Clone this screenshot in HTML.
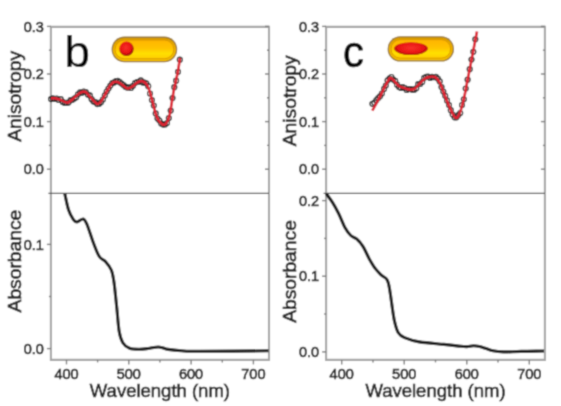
<!DOCTYPE html>
<html><head><meta charset="utf-8"><style>
html,body{margin:0;padding:0;background:#fff;}
svg{display:block;}
text{font-family:"Liberation Sans", sans-serif;}
.tk{font-size:14.5px;fill:#222222;stroke:#222222;stroke-width:0.65px;}
.xt{font-size:18.5px;fill:#222222;stroke:#222222;stroke-width:0.65px;}
.yt{font-size:18px;fill:#222222;stroke:#222222;stroke-width:0.65px;}
.big{font-size:44px;fill:#000;stroke:#000;stroke-width:0.2px;}
.big2{font-size:45px;fill:#000;stroke:#000;stroke-width:0.65px;}
</style></head><body>
<svg width="561" height="406" viewBox="0 0 561 406">
<defs>
<linearGradient id="go" x1="0" y1="0" x2="0" y2="1">
<stop offset="0" stop-color="#d89c00"/><stop offset="0.5" stop-color="#f0b400"/><stop offset="1" stop-color="#f6c000"/>
</linearGradient>
<linearGradient id="gi" x1="0" y1="0" x2="0" y2="1">
<stop offset="0" stop-color="#ffb400"/><stop offset="0.45" stop-color="#ffc400"/><stop offset="0.72" stop-color="#ffe000"/><stop offset="1" stop-color="#ffcc00"/>
</linearGradient>
<radialGradient id="rd" cx="0.45" cy="0.42" r="0.55">
<stop offset="0" stop-color="#f83028"/><stop offset="0.7" stop-color="#e81414"/><stop offset="1" stop-color="#980404"/>
</radialGradient>
<radialGradient id="rd2" cx="0.5" cy="0.45" r="0.55">
<stop offset="0" stop-color="#f83028"/><stop offset="0.7" stop-color="#e81414"/><stop offset="1" stop-color="#a00404"/>
</radialGradient>
</defs>
<filter id="bl" x="0" y="0" width="561" height="406" filterUnits="userSpaceOnUse"><feConvolveMatrix order="5" kernelMatrix="0.00003 0.00101 0.00331 0.00101 0.00003 0.00101 0.03529 0.11525 0.03529 0.00101 0.00331 0.11525 0.37636 0.11525 0.00331 0.00101 0.03529 0.11525 0.03529 0.00101 0.00003 0.00101 0.00331 0.00101 0.00003" edgeMode="duplicate" preserveAlpha="true"/></filter>
<g filter="url(#bl)">
<rect width="561" height="406" fill="#fff"/>
<path d="M50.9,193.3 L50.9,26.9 L269.0,26.9 L269.0,193.3" fill="none" stroke="#a4a4a4" stroke-width="2.1"/>
<path d="M50.9,193.3 L50.9,359.9 L269.0,359.9 L269.0,193.3" fill="none" stroke="#a4a4a4" stroke-width="2.1"/>
<line x1="48.4" y1="193.3" x2="269.0" y2="193.3" stroke="#505050" stroke-width="1.3"/>
<line x1="46.9" y1="26.4" x2="50.9" y2="26.4" stroke="#7a7a7a" stroke-width="1.4"/>
<line x1="265.0" y1="26.4" x2="269.0" y2="26.4" stroke="#7a7a7a" stroke-width="1.4"/>
<text x="43.9" y="31.599999999999998" text-anchor="end" class="tk">0.3</text>
<line x1="46.9" y1="74.0" x2="50.9" y2="74.0" stroke="#7a7a7a" stroke-width="1.4"/>
<line x1="265.0" y1="74.0" x2="269.0" y2="74.0" stroke="#7a7a7a" stroke-width="1.4"/>
<text x="43.9" y="79.2" text-anchor="end" class="tk">0.2</text>
<line x1="46.9" y1="121.6" x2="50.9" y2="121.6" stroke="#7a7a7a" stroke-width="1.4"/>
<line x1="265.0" y1="121.6" x2="269.0" y2="121.6" stroke="#7a7a7a" stroke-width="1.4"/>
<text x="43.9" y="126.8" text-anchor="end" class="tk">0.1</text>
<line x1="46.9" y1="169.2" x2="50.9" y2="169.2" stroke="#7a7a7a" stroke-width="1.4"/>
<line x1="265.0" y1="169.2" x2="269.0" y2="169.2" stroke="#7a7a7a" stroke-width="1.4"/>
<text x="43.9" y="174.39999999999998" text-anchor="end" class="tk">0.0</text>
<line x1="48.9" y1="50.2" x2="50.9" y2="50.2" stroke="#7a7a7a" stroke-width="1.4"/>
<line x1="267.0" y1="50.2" x2="269.0" y2="50.2" stroke="#7a7a7a" stroke-width="1.4"/>
<line x1="48.9" y1="97.8" x2="50.9" y2="97.8" stroke="#7a7a7a" stroke-width="1.4"/>
<line x1="267.0" y1="97.8" x2="269.0" y2="97.8" stroke="#7a7a7a" stroke-width="1.4"/>
<line x1="48.9" y1="145.4" x2="50.9" y2="145.4" stroke="#7a7a7a" stroke-width="1.4"/>
<line x1="267.0" y1="145.4" x2="269.0" y2="145.4" stroke="#7a7a7a" stroke-width="1.4"/>
<line x1="46.9" y1="244.4" x2="50.9" y2="244.4" stroke="#7a7a7a" stroke-width="1.4"/>
<text x="43.9" y="249.6" text-anchor="end" class="tk">0.1</text>
<line x1="46.9" y1="348.6" x2="50.9" y2="348.6" stroke="#7a7a7a" stroke-width="1.4"/>
<text x="43.9" y="353.8" text-anchor="end" class="tk">0.0</text>
<line x1="48.9" y1="296.5" x2="50.9" y2="296.5" stroke="#7a7a7a" stroke-width="1.4"/>
<line x1="66.5" y1="359.9" x2="66.5" y2="364.4" stroke="#7a7a7a" stroke-width="1.4"/>
<text x="66.5" y="379" text-anchor="middle" class="tk">400</text>
<line x1="128.8" y1="359.9" x2="128.8" y2="364.4" stroke="#7a7a7a" stroke-width="1.4"/>
<text x="128.8" y="379" text-anchor="middle" class="tk">500</text>
<line x1="191.1" y1="359.9" x2="191.1" y2="364.4" stroke="#7a7a7a" stroke-width="1.4"/>
<text x="191.1" y="379" text-anchor="middle" class="tk">600</text>
<line x1="253.4" y1="359.9" x2="253.4" y2="364.4" stroke="#7a7a7a" stroke-width="1.4"/>
<text x="253.4" y="379" text-anchor="middle" class="tk">700</text>
<line x1="97.6" y1="359.9" x2="97.6" y2="362.4" stroke="#7a7a7a" stroke-width="1.4"/>
<line x1="159.9" y1="359.9" x2="159.9" y2="362.4" stroke="#7a7a7a" stroke-width="1.4"/>
<line x1="222.3" y1="359.9" x2="222.3" y2="362.4" stroke="#7a7a7a" stroke-width="1.4"/>
<text x="159.9" y="397" text-anchor="middle" class="xt">Wavelength (nm)</text>
<text transform="translate(20.6,96.4) rotate(-90) scale(1.07,1)" x="0" y="0" text-anchor="middle" class="yt">Anisotropy</text>
<text transform="translate(20.6,261.1) rotate(-90) scale(1.07,1)" x="0" y="0" text-anchor="middle" class="yt">Absorbance</text>
<path d="M326.1,193.3 L326.1,26.9 L544.9,26.9 L544.9,193.3" fill="none" stroke="#a4a4a4" stroke-width="2.1"/>
<path d="M326.1,193.3 L326.1,359.9 L544.9,359.9 L544.9,193.3" fill="none" stroke="#a4a4a4" stroke-width="2.1"/>
<line x1="323.6" y1="193.3" x2="544.9" y2="193.3" stroke="#505050" stroke-width="1.3"/>
<line x1="322.1" y1="26.4" x2="326.1" y2="26.4" stroke="#7a7a7a" stroke-width="1.4"/>
<line x1="540.9" y1="26.4" x2="544.9" y2="26.4" stroke="#7a7a7a" stroke-width="1.4"/>
<text x="319.1" y="31.599999999999998" text-anchor="end" class="tk">0.3</text>
<line x1="322.1" y1="74.0" x2="326.1" y2="74.0" stroke="#7a7a7a" stroke-width="1.4"/>
<line x1="540.9" y1="74.0" x2="544.9" y2="74.0" stroke="#7a7a7a" stroke-width="1.4"/>
<text x="319.1" y="79.2" text-anchor="end" class="tk">0.2</text>
<line x1="322.1" y1="121.6" x2="326.1" y2="121.6" stroke="#7a7a7a" stroke-width="1.4"/>
<line x1="540.9" y1="121.6" x2="544.9" y2="121.6" stroke="#7a7a7a" stroke-width="1.4"/>
<text x="319.1" y="126.8" text-anchor="end" class="tk">0.1</text>
<line x1="322.1" y1="169.2" x2="326.1" y2="169.2" stroke="#7a7a7a" stroke-width="1.4"/>
<line x1="540.9" y1="169.2" x2="544.9" y2="169.2" stroke="#7a7a7a" stroke-width="1.4"/>
<text x="319.1" y="174.39999999999998" text-anchor="end" class="tk">0.0</text>
<line x1="324.1" y1="50.2" x2="326.1" y2="50.2" stroke="#7a7a7a" stroke-width="1.4"/>
<line x1="542.9" y1="50.2" x2="544.9" y2="50.2" stroke="#7a7a7a" stroke-width="1.4"/>
<line x1="324.1" y1="97.8" x2="326.1" y2="97.8" stroke="#7a7a7a" stroke-width="1.4"/>
<line x1="542.9" y1="97.8" x2="544.9" y2="97.8" stroke="#7a7a7a" stroke-width="1.4"/>
<line x1="324.1" y1="145.4" x2="326.1" y2="145.4" stroke="#7a7a7a" stroke-width="1.4"/>
<line x1="542.9" y1="145.4" x2="544.9" y2="145.4" stroke="#7a7a7a" stroke-width="1.4"/>
<line x1="322.1" y1="200.6" x2="326.1" y2="200.6" stroke="#7a7a7a" stroke-width="1.4"/>
<text x="319.1" y="205.79999999999998" text-anchor="end" class="tk">0.2</text>
<line x1="322.1" y1="276.2" x2="326.1" y2="276.2" stroke="#7a7a7a" stroke-width="1.4"/>
<text x="319.1" y="281.4" text-anchor="end" class="tk">0.1</text>
<line x1="322.1" y1="351.9" x2="326.1" y2="351.9" stroke="#7a7a7a" stroke-width="1.4"/>
<text x="319.1" y="357.09999999999997" text-anchor="end" class="tk">0.0</text>
<line x1="324.1" y1="238.4" x2="326.1" y2="238.4" stroke="#7a7a7a" stroke-width="1.4"/>
<line x1="324.1" y1="314" x2="326.1" y2="314" stroke="#7a7a7a" stroke-width="1.4"/>
<line x1="341.7" y1="359.9" x2="341.7" y2="364.4" stroke="#7a7a7a" stroke-width="1.4"/>
<text x="341.7" y="379" text-anchor="middle" class="tk">400</text>
<line x1="404.2" y1="359.9" x2="404.2" y2="364.4" stroke="#7a7a7a" stroke-width="1.4"/>
<text x="404.2" y="379" text-anchor="middle" class="tk">500</text>
<line x1="466.8" y1="359.9" x2="466.8" y2="364.4" stroke="#7a7a7a" stroke-width="1.4"/>
<text x="466.8" y="379" text-anchor="middle" class="tk">600</text>
<line x1="529.3" y1="359.9" x2="529.3" y2="364.4" stroke="#7a7a7a" stroke-width="1.4"/>
<text x="529.3" y="379" text-anchor="middle" class="tk">700</text>
<line x1="373.0" y1="359.9" x2="373.0" y2="362.4" stroke="#7a7a7a" stroke-width="1.4"/>
<line x1="435.5" y1="359.9" x2="435.5" y2="362.4" stroke="#7a7a7a" stroke-width="1.4"/>
<line x1="498.0" y1="359.9" x2="498.0" y2="362.4" stroke="#7a7a7a" stroke-width="1.4"/>
<text x="435.5" y="397" text-anchor="middle" class="xt">Wavelength (nm)</text>
<text transform="translate(296.0,100.8) rotate(-90) scale(1.07,1)" x="0" y="0" text-anchor="middle" class="yt">Anisotropy</text>
<text transform="translate(296.0,271.5) rotate(-90) scale(1.07,1)" x="0" y="0" text-anchor="middle" class="yt">Absorbance</text>
<text transform="translate(64.6,67) scale(1.04,1)" class="big">b</text>
<text transform="translate(343.0,67.2) scale(0.93,1)" class="big2">c</text>
<rect x="111.6" y="36.6" width="65.6" height="25.6" rx="12.8" ry="12.8" fill="#98741a"/>
<rect x="112.89999999999999" y="37.9" width="62.99999999999999" height="23.0" rx="11.5" ry="11.5" fill="url(#go)"/>
<rect x="115.0" y="40.0" width="58.8" height="18.8" rx="9.4" ry="9.4" fill="url(#gi)" stroke="#d69400" stroke-width="0.9"/>
<rect x="387.6" y="36.2" width="66.39999999999998" height="25.4" rx="12.7" ry="12.7" fill="#98741a"/>
<rect x="388.90000000000003" y="37.5" width="63.799999999999976" height="22.799999999999997" rx="11.399999999999999" ry="11.399999999999999" fill="url(#go)"/>
<rect x="391.0" y="39.6" width="59.59999999999998" height="18.599999999999998" rx="9.299999999999999" ry="9.299999999999999" fill="url(#gi)" stroke="#d69400" stroke-width="0.9"/>
<circle cx="126.5" cy="48.8" r="7.2" fill="url(#rd)"/>
<ellipse cx="411" cy="48.6" rx="16.8" ry="6.4" fill="url(#rd2)"/>
<path d="M64.8,193.7 C65.4,196.4 67.1,205.4 68.5,209.7 C69.9,214.0 72.0,217.5 73.4,219.6 C74.8,221.7 75.5,222.1 77.1,222.0 C78.7,221.9 81.5,218.6 83.2,219.0 C84.9,219.4 85.4,220.7 87.0,224.5 C88.6,228.3 91.0,236.4 93.0,241.7 C95.0,247.0 97.2,253.2 99.3,256.5 C101.4,259.8 103.4,259.1 105.4,261.4 C107.4,263.6 109.9,266.5 111.3,270.0 C112.7,273.5 113.1,276.1 114.0,282.3 C114.9,288.5 115.8,298.8 116.7,307.0 C117.6,315.2 118.2,325.7 119.2,331.6 C120.2,337.6 121.1,339.9 122.8,342.7 C124.5,345.5 126.8,347.2 129.6,348.3 C132.4,349.4 136.3,349.3 139.4,349.3 C142.5,349.3 145.7,348.8 148.0,348.5 C150.3,348.2 151.8,347.8 153.5,347.5 C155.2,347.2 156.7,347.0 158.2,347.0 C159.7,347.0 160.9,347.3 162.5,347.7 C164.1,348.1 164.9,348.9 168.0,349.4 C171.1,349.9 176.0,350.5 181.3,350.8 C186.6,351.1 185.5,351.3 200.0,351.3 C214.5,351.3 257.1,350.9 268.5,350.8" fill="none" stroke="#161616" stroke-width="3.1" stroke-linejoin="round"/>
<path d="M326.2,193.6 C327.2,195.0 330.2,198.9 332.3,202.2 C334.4,205.5 336.4,209.2 338.5,213.3 C340.6,217.4 342.6,223.2 344.6,226.9 C346.7,230.6 348.7,233.4 350.8,235.5 C352.9,237.6 354.9,237.3 357.0,239.2 C359.1,241.0 361.1,243.3 363.1,246.6 C365.2,249.9 367.2,255.2 369.3,258.9 C371.4,262.6 373.4,266.0 375.4,268.7 C377.4,271.4 379.1,273.0 381.1,274.9 C383.1,276.8 385.8,277.4 387.2,279.9 C388.6,282.4 388.9,285.2 389.7,289.7 C390.5,294.2 391.4,301.7 392.2,307.0 C393.0,312.3 393.6,317.4 394.6,321.7 C395.6,326.0 396.7,330.1 398.3,332.8 C399.9,335.5 401.0,336.2 404.5,337.7 C408.0,339.2 412.7,340.8 419.3,341.9 C425.9,343.0 436.9,343.7 443.9,344.4 C450.8,345.1 457.1,345.9 461.0,346.3 C464.9,346.7 464.9,346.7 467.0,346.6 C469.1,346.5 471.4,345.8 473.5,345.8 C475.6,345.8 477.4,346.1 479.5,346.6 C481.6,347.1 483.8,347.9 486.0,348.6 C488.2,349.3 490.1,350.2 493.0,350.8 C495.9,351.4 498.8,351.8 503.5,351.9 C508.2,352.0 514.5,351.5 521.3,351.4 C528.0,351.2 540.2,351.1 544.0,351.0" fill="none" stroke="#161616" stroke-width="3.1" stroke-linejoin="round"/>
<circle cx="51.0" cy="99.1" r="2.5" fill="#ffffff" fill-opacity="0.3" stroke="#1c1c1c" stroke-width="1.2"/>
<circle cx="52.8" cy="98.3" r="2.5" fill="#ffffff" fill-opacity="0.3" stroke="#1c1c1c" stroke-width="1.2"/>
<circle cx="54.7" cy="99.0" r="2.5" fill="#ffffff" fill-opacity="0.3" stroke="#1c1c1c" stroke-width="1.2"/>
<circle cx="56.7" cy="98.5" r="2.5" fill="#ffffff" fill-opacity="0.3" stroke="#1c1c1c" stroke-width="1.2"/>
<circle cx="58.6" cy="100.0" r="2.5" fill="#ffffff" fill-opacity="0.3" stroke="#1c1c1c" stroke-width="1.2"/>
<circle cx="60.7" cy="99.1" r="2.5" fill="#ffffff" fill-opacity="0.3" stroke="#1c1c1c" stroke-width="1.2"/>
<circle cx="62.7" cy="101.9" r="2.5" fill="#ffffff" fill-opacity="0.3" stroke="#1c1c1c" stroke-width="1.2"/>
<circle cx="64.6" cy="102.9" r="2.5" fill="#ffffff" fill-opacity="0.3" stroke="#1c1c1c" stroke-width="1.2"/>
<circle cx="66.4" cy="102.8" r="2.5" fill="#ffffff" fill-opacity="0.3" stroke="#1c1c1c" stroke-width="1.2"/>
<circle cx="68.5" cy="102.6" r="2.5" fill="#ffffff" fill-opacity="0.3" stroke="#1c1c1c" stroke-width="1.2"/>
<circle cx="70.6" cy="100.2" r="2.5" fill="#ffffff" fill-opacity="0.3" stroke="#1c1c1c" stroke-width="1.2"/>
<circle cx="72.4" cy="99.8" r="2.5" fill="#ffffff" fill-opacity="0.3" stroke="#1c1c1c" stroke-width="1.2"/>
<circle cx="74.3" cy="98.6" r="2.5" fill="#ffffff" fill-opacity="0.3" stroke="#1c1c1c" stroke-width="1.2"/>
<circle cx="76.2" cy="97.3" r="2.5" fill="#ffffff" fill-opacity="0.3" stroke="#1c1c1c" stroke-width="1.2"/>
<circle cx="78.0" cy="94.3" r="2.5" fill="#ffffff" fill-opacity="0.3" stroke="#1c1c1c" stroke-width="1.2"/>
<circle cx="80.1" cy="92.3" r="2.5" fill="#ffffff" fill-opacity="0.3" stroke="#1c1c1c" stroke-width="1.2"/>
<circle cx="81.9" cy="92.8" r="2.5" fill="#ffffff" fill-opacity="0.3" stroke="#1c1c1c" stroke-width="1.2"/>
<circle cx="83.8" cy="91.5" r="2.5" fill="#ffffff" fill-opacity="0.3" stroke="#1c1c1c" stroke-width="1.2"/>
<circle cx="85.8" cy="92.1" r="2.5" fill="#ffffff" fill-opacity="0.3" stroke="#1c1c1c" stroke-width="1.2"/>
<circle cx="87.8" cy="94.5" r="2.5" fill="#ffffff" fill-opacity="0.3" stroke="#1c1c1c" stroke-width="1.2"/>
<circle cx="89.8" cy="95.4" r="2.5" fill="#ffffff" fill-opacity="0.3" stroke="#1c1c1c" stroke-width="1.2"/>
<circle cx="91.6" cy="99.2" r="2.5" fill="#ffffff" fill-opacity="0.3" stroke="#1c1c1c" stroke-width="1.2"/>
<circle cx="93.4" cy="101.4" r="2.5" fill="#ffffff" fill-opacity="0.3" stroke="#1c1c1c" stroke-width="1.2"/>
<circle cx="95.4" cy="102.2" r="2.5" fill="#ffffff" fill-opacity="0.3" stroke="#1c1c1c" stroke-width="1.2"/>
<circle cx="97.3" cy="104.1" r="2.5" fill="#ffffff" fill-opacity="0.3" stroke="#1c1c1c" stroke-width="1.2"/>
<circle cx="99.2" cy="103.8" r="2.5" fill="#ffffff" fill-opacity="0.3" stroke="#1c1c1c" stroke-width="1.2"/>
<circle cx="101.0" cy="102.2" r="2.5" fill="#ffffff" fill-opacity="0.3" stroke="#1c1c1c" stroke-width="1.2"/>
<circle cx="102.9" cy="99.5" r="2.5" fill="#ffffff" fill-opacity="0.3" stroke="#1c1c1c" stroke-width="1.2"/>
<circle cx="104.8" cy="95.4" r="2.5" fill="#ffffff" fill-opacity="0.3" stroke="#1c1c1c" stroke-width="1.2"/>
<circle cx="106.7" cy="91.5" r="2.5" fill="#ffffff" fill-opacity="0.3" stroke="#1c1c1c" stroke-width="1.2"/>
<circle cx="108.5" cy="88.5" r="2.5" fill="#ffffff" fill-opacity="0.3" stroke="#1c1c1c" stroke-width="1.2"/>
<circle cx="110.4" cy="85.6" r="2.5" fill="#ffffff" fill-opacity="0.3" stroke="#1c1c1c" stroke-width="1.2"/>
<circle cx="112.3" cy="83.0" r="2.5" fill="#ffffff" fill-opacity="0.3" stroke="#1c1c1c" stroke-width="1.2"/>
<circle cx="114.1" cy="82.4" r="2.5" fill="#ffffff" fill-opacity="0.3" stroke="#1c1c1c" stroke-width="1.2"/>
<circle cx="116.0" cy="81.2" r="2.5" fill="#ffffff" fill-opacity="0.3" stroke="#1c1c1c" stroke-width="1.2"/>
<circle cx="117.8" cy="80.9" r="2.5" fill="#ffffff" fill-opacity="0.3" stroke="#1c1c1c" stroke-width="1.2"/>
<circle cx="119.7" cy="82.2" r="2.5" fill="#ffffff" fill-opacity="0.3" stroke="#1c1c1c" stroke-width="1.2"/>
<circle cx="121.6" cy="83.5" r="2.5" fill="#ffffff" fill-opacity="0.3" stroke="#1c1c1c" stroke-width="1.2"/>
<circle cx="123.5" cy="85.1" r="2.5" fill="#ffffff" fill-opacity="0.3" stroke="#1c1c1c" stroke-width="1.2"/>
<circle cx="125.4" cy="86.7" r="2.5" fill="#ffffff" fill-opacity="0.3" stroke="#1c1c1c" stroke-width="1.2"/>
<circle cx="127.2" cy="87.6" r="2.5" fill="#ffffff" fill-opacity="0.3" stroke="#1c1c1c" stroke-width="1.2"/>
<circle cx="129.1" cy="87.3" r="2.5" fill="#ffffff" fill-opacity="0.3" stroke="#1c1c1c" stroke-width="1.2"/>
<circle cx="131.0" cy="88.0" r="2.5" fill="#ffffff" fill-opacity="0.3" stroke="#1c1c1c" stroke-width="1.2"/>
<circle cx="133.0" cy="85.8" r="2.5" fill="#ffffff" fill-opacity="0.3" stroke="#1c1c1c" stroke-width="1.2"/>
<circle cx="135.0" cy="83.1" r="2.5" fill="#ffffff" fill-opacity="0.3" stroke="#1c1c1c" stroke-width="1.2"/>
<circle cx="137.0" cy="82.0" r="2.5" fill="#ffffff" fill-opacity="0.3" stroke="#1c1c1c" stroke-width="1.2"/>
<circle cx="139.0" cy="81.7" r="2.5" fill="#ffffff" fill-opacity="0.3" stroke="#1c1c1c" stroke-width="1.2"/>
<circle cx="140.8" cy="80.3" r="2.5" fill="#ffffff" fill-opacity="0.3" stroke="#1c1c1c" stroke-width="1.2"/>
<circle cx="142.7" cy="82.4" r="2.5" fill="#ffffff" fill-opacity="0.3" stroke="#1c1c1c" stroke-width="1.2"/>
<circle cx="144.5" cy="82.7" r="2.5" fill="#ffffff" fill-opacity="0.3" stroke="#1c1c1c" stroke-width="1.2"/>
<circle cx="146.3" cy="83.3" r="2.5" fill="#ffffff" fill-opacity="0.3" stroke="#1c1c1c" stroke-width="1.2"/>
<circle cx="148.2" cy="86.2" r="2.5" fill="#ffffff" fill-opacity="0.3" stroke="#1c1c1c" stroke-width="1.2"/>
<circle cx="150.0" cy="93.5" r="2.5" fill="#ffffff" fill-opacity="0.3" stroke="#1c1c1c" stroke-width="1.2"/>
<circle cx="151.9" cy="100.1" r="2.5" fill="#ffffff" fill-opacity="0.3" stroke="#1c1c1c" stroke-width="1.2"/>
<circle cx="153.8" cy="105.5" r="2.5" fill="#ffffff" fill-opacity="0.3" stroke="#1c1c1c" stroke-width="1.2"/>
<circle cx="155.7" cy="113.4" r="2.5" fill="#ffffff" fill-opacity="0.3" stroke="#1c1c1c" stroke-width="1.2"/>
<circle cx="157.5" cy="118.6" r="2.5" fill="#ffffff" fill-opacity="0.3" stroke="#1c1c1c" stroke-width="1.2"/>
<circle cx="159.4" cy="120.5" r="2.5" fill="#ffffff" fill-opacity="0.3" stroke="#1c1c1c" stroke-width="1.2"/>
<circle cx="161.2" cy="123.6" r="2.5" fill="#ffffff" fill-opacity="0.3" stroke="#1c1c1c" stroke-width="1.2"/>
<circle cx="163.2" cy="124.6" r="2.5" fill="#ffffff" fill-opacity="0.3" stroke="#1c1c1c" stroke-width="1.2"/>
<circle cx="165.0" cy="124.5" r="2.5" fill="#ffffff" fill-opacity="0.3" stroke="#1c1c1c" stroke-width="1.2"/>
<circle cx="167.0" cy="123.1" r="2.5" fill="#ffffff" fill-opacity="0.3" stroke="#1c1c1c" stroke-width="1.2"/>
<circle cx="168.8" cy="118.1" r="2.5" fill="#ffffff" fill-opacity="0.3" stroke="#1c1c1c" stroke-width="1.2"/>
<circle cx="170.7" cy="110.6" r="2.5" fill="#ffffff" fill-opacity="0.3" stroke="#1c1c1c" stroke-width="1.2"/>
<circle cx="172.5" cy="98.1" r="2.5" fill="#ffffff" fill-opacity="0.3" stroke="#1c1c1c" stroke-width="1.2"/>
<circle cx="174.3" cy="87.2" r="2.5" fill="#ffffff" fill-opacity="0.3" stroke="#1c1c1c" stroke-width="1.2"/>
<circle cx="176.1" cy="80.7" r="2.5" fill="#ffffff" fill-opacity="0.3" stroke="#1c1c1c" stroke-width="1.2"/>
<circle cx="178.0" cy="71.8" r="2.5" fill="#ffffff" fill-opacity="0.3" stroke="#1c1c1c" stroke-width="1.2"/>
<circle cx="179.8" cy="59.7" r="2.5" fill="#ffffff" fill-opacity="0.3" stroke="#1c1c1c" stroke-width="1.2"/>
<circle cx="372.4" cy="103.8" r="2.5" fill="#ffffff" fill-opacity="0.3" stroke="#1c1c1c" stroke-width="1.2"/>
<circle cx="374.4" cy="102.7" r="2.5" fill="#ffffff" fill-opacity="0.3" stroke="#1c1c1c" stroke-width="1.2"/>
<circle cx="376.4" cy="100.0" r="2.5" fill="#ffffff" fill-opacity="0.3" stroke="#1c1c1c" stroke-width="1.2"/>
<circle cx="378.2" cy="98.0" r="2.5" fill="#ffffff" fill-opacity="0.3" stroke="#1c1c1c" stroke-width="1.2"/>
<circle cx="380.0" cy="96.3" r="2.5" fill="#ffffff" fill-opacity="0.3" stroke="#1c1c1c" stroke-width="1.2"/>
<circle cx="381.9" cy="93.5" r="2.5" fill="#ffffff" fill-opacity="0.3" stroke="#1c1c1c" stroke-width="1.2"/>
<circle cx="384.0" cy="88.9" r="2.5" fill="#ffffff" fill-opacity="0.3" stroke="#1c1c1c" stroke-width="1.2"/>
<circle cx="385.8" cy="85.6" r="2.5" fill="#ffffff" fill-opacity="0.3" stroke="#1c1c1c" stroke-width="1.2"/>
<circle cx="387.6" cy="80.4" r="2.5" fill="#ffffff" fill-opacity="0.3" stroke="#1c1c1c" stroke-width="1.2"/>
<circle cx="389.6" cy="78.4" r="2.5" fill="#ffffff" fill-opacity="0.3" stroke="#1c1c1c" stroke-width="1.2"/>
<circle cx="391.4" cy="77.0" r="2.5" fill="#ffffff" fill-opacity="0.3" stroke="#1c1c1c" stroke-width="1.2"/>
<circle cx="393.2" cy="79.5" r="2.5" fill="#ffffff" fill-opacity="0.3" stroke="#1c1c1c" stroke-width="1.2"/>
<circle cx="395.2" cy="80.9" r="2.5" fill="#ffffff" fill-opacity="0.3" stroke="#1c1c1c" stroke-width="1.2"/>
<circle cx="397.0" cy="84.7" r="2.5" fill="#ffffff" fill-opacity="0.3" stroke="#1c1c1c" stroke-width="1.2"/>
<circle cx="399.0" cy="87.0" r="2.5" fill="#ffffff" fill-opacity="0.3" stroke="#1c1c1c" stroke-width="1.2"/>
<circle cx="400.8" cy="88.0" r="2.5" fill="#ffffff" fill-opacity="0.3" stroke="#1c1c1c" stroke-width="1.2"/>
<circle cx="402.7" cy="87.1" r="2.5" fill="#ffffff" fill-opacity="0.3" stroke="#1c1c1c" stroke-width="1.2"/>
<circle cx="404.8" cy="88.0" r="2.5" fill="#ffffff" fill-opacity="0.3" stroke="#1c1c1c" stroke-width="1.2"/>
<circle cx="406.6" cy="89.9" r="2.5" fill="#ffffff" fill-opacity="0.3" stroke="#1c1c1c" stroke-width="1.2"/>
<circle cx="408.5" cy="89.1" r="2.5" fill="#ffffff" fill-opacity="0.3" stroke="#1c1c1c" stroke-width="1.2"/>
<circle cx="410.4" cy="89.1" r="2.5" fill="#ffffff" fill-opacity="0.3" stroke="#1c1c1c" stroke-width="1.2"/>
<circle cx="412.4" cy="89.7" r="2.5" fill="#ffffff" fill-opacity="0.3" stroke="#1c1c1c" stroke-width="1.2"/>
<circle cx="414.3" cy="89.7" r="2.5" fill="#ffffff" fill-opacity="0.3" stroke="#1c1c1c" stroke-width="1.2"/>
<circle cx="416.3" cy="88.3" r="2.5" fill="#ffffff" fill-opacity="0.3" stroke="#1c1c1c" stroke-width="1.2"/>
<circle cx="418.2" cy="84.1" r="2.5" fill="#ffffff" fill-opacity="0.3" stroke="#1c1c1c" stroke-width="1.2"/>
<circle cx="420.2" cy="84.0" r="2.5" fill="#ffffff" fill-opacity="0.3" stroke="#1c1c1c" stroke-width="1.2"/>
<circle cx="422.2" cy="82.0" r="2.5" fill="#ffffff" fill-opacity="0.3" stroke="#1c1c1c" stroke-width="1.2"/>
<circle cx="424.2" cy="77.8" r="2.5" fill="#ffffff" fill-opacity="0.3" stroke="#1c1c1c" stroke-width="1.2"/>
<circle cx="426.2" cy="76.9" r="2.5" fill="#ffffff" fill-opacity="0.3" stroke="#1c1c1c" stroke-width="1.2"/>
<circle cx="428.1" cy="76.6" r="2.5" fill="#ffffff" fill-opacity="0.3" stroke="#1c1c1c" stroke-width="1.2"/>
<circle cx="430.1" cy="77.9" r="2.5" fill="#ffffff" fill-opacity="0.3" stroke="#1c1c1c" stroke-width="1.2"/>
<circle cx="432.0" cy="76.9" r="2.5" fill="#ffffff" fill-opacity="0.3" stroke="#1c1c1c" stroke-width="1.2"/>
<circle cx="433.9" cy="77.2" r="2.5" fill="#ffffff" fill-opacity="0.3" stroke="#1c1c1c" stroke-width="1.2"/>
<circle cx="435.9" cy="76.8" r="2.5" fill="#ffffff" fill-opacity="0.3" stroke="#1c1c1c" stroke-width="1.2"/>
<circle cx="437.8" cy="78.6" r="2.5" fill="#ffffff" fill-opacity="0.3" stroke="#1c1c1c" stroke-width="1.2"/>
<circle cx="439.7" cy="81.4" r="2.5" fill="#ffffff" fill-opacity="0.3" stroke="#1c1c1c" stroke-width="1.2"/>
<circle cx="441.5" cy="87.1" r="2.5" fill="#ffffff" fill-opacity="0.3" stroke="#1c1c1c" stroke-width="1.2"/>
<circle cx="443.3" cy="91.6" r="2.5" fill="#ffffff" fill-opacity="0.3" stroke="#1c1c1c" stroke-width="1.2"/>
<circle cx="445.2" cy="95.8" r="2.5" fill="#ffffff" fill-opacity="0.3" stroke="#1c1c1c" stroke-width="1.2"/>
<circle cx="447.0" cy="100.4" r="2.5" fill="#ffffff" fill-opacity="0.3" stroke="#1c1c1c" stroke-width="1.2"/>
<circle cx="449.0" cy="105.1" r="2.5" fill="#ffffff" fill-opacity="0.3" stroke="#1c1c1c" stroke-width="1.2"/>
<circle cx="450.8" cy="110.2" r="2.5" fill="#ffffff" fill-opacity="0.3" stroke="#1c1c1c" stroke-width="1.2"/>
<circle cx="452.7" cy="114.5" r="2.5" fill="#ffffff" fill-opacity="0.3" stroke="#1c1c1c" stroke-width="1.2"/>
<circle cx="454.6" cy="117.3" r="2.5" fill="#ffffff" fill-opacity="0.3" stroke="#1c1c1c" stroke-width="1.2"/>
<circle cx="456.5" cy="117.3" r="2.5" fill="#ffffff" fill-opacity="0.3" stroke="#1c1c1c" stroke-width="1.2"/>
<circle cx="458.3" cy="115.1" r="2.5" fill="#ffffff" fill-opacity="0.3" stroke="#1c1c1c" stroke-width="1.2"/>
<circle cx="460.2" cy="113.0" r="2.5" fill="#ffffff" fill-opacity="0.3" stroke="#1c1c1c" stroke-width="1.2"/>
<circle cx="462.0" cy="105.0" r="2.5" fill="#ffffff" fill-opacity="0.3" stroke="#1c1c1c" stroke-width="1.2"/>
<circle cx="463.8" cy="99.3" r="2.5" fill="#ffffff" fill-opacity="0.3" stroke="#1c1c1c" stroke-width="1.2"/>
<circle cx="465.7" cy="88.6" r="2.5" fill="#ffffff" fill-opacity="0.3" stroke="#1c1c1c" stroke-width="1.2"/>
<circle cx="467.6" cy="79.7" r="2.5" fill="#ffffff" fill-opacity="0.3" stroke="#1c1c1c" stroke-width="1.2"/>
<circle cx="469.7" cy="69.2" r="2.5" fill="#ffffff" fill-opacity="0.3" stroke="#1c1c1c" stroke-width="1.2"/>
<circle cx="471.5" cy="59.6" r="2.5" fill="#ffffff" fill-opacity="0.3" stroke="#1c1c1c" stroke-width="1.2"/>
<circle cx="473.3" cy="51.8" r="2.5" fill="#ffffff" fill-opacity="0.3" stroke="#1c1c1c" stroke-width="1.2"/>
<circle cx="475.3" cy="39.3" r="2.5" fill="#ffffff" fill-opacity="0.3" stroke="#1c1c1c" stroke-width="1.2"/>
<path d="M51.0,98.6 C51.5,98.5 52.4,98.0 53.9,98.2 C55.4,98.4 57.5,98.9 59.8,99.6 C62.1,100.3 65.4,102.8 67.7,102.6 C70.0,102.4 71.5,99.8 73.6,98.2 C75.7,96.6 78.6,93.8 80.5,92.7 C82.4,91.6 83.4,91.2 85.0,91.8 C86.6,92.4 88.2,94.9 89.9,96.6 C91.6,98.3 93.6,100.8 94.9,102.0 C96.2,103.2 96.7,104.2 97.8,104.0 C98.9,103.8 100.0,102.9 101.7,100.5 C103.4,98.1 105.9,92.7 107.7,89.7 C109.5,86.8 111.1,84.1 112.6,82.8 C114.1,81.5 115.2,81.7 116.5,81.8 C117.8,81.9 119.1,82.7 120.3,83.4 C121.5,84.1 122.6,85.3 123.9,86.2 C125.2,87.1 126.4,88.6 127.9,88.6 C129.4,88.6 131.2,87.3 132.8,86.2 C134.4,85.1 136.0,83.0 137.7,82.2 C139.3,81.4 141.4,81.1 142.7,81.3 C144.0,81.5 144.5,81.8 145.6,83.2 C146.7,84.6 147.8,86.1 149.0,89.4 C150.2,92.7 151.6,98.6 152.9,103.2 C154.2,107.8 155.3,113.5 156.8,117.0 C158.3,120.5 160.2,122.8 161.7,123.9 C163.2,125.1 164.4,125.4 165.7,123.9 C167.0,122.4 168.3,120.4 169.6,115.0 C170.9,109.6 172.3,98.3 173.6,91.4 C174.9,84.5 176.4,79.2 177.5,73.6 C178.6,68.0 179.6,60.5 180.0,57.9" fill="none" stroke="#dc2430" stroke-width="2.7" stroke-linejoin="round"/>
<path d="M372.3,110.6 C373.2,108.9 375.9,104.4 377.9,100.7 C379.8,97.0 382.1,92.1 384.0,88.4 C385.9,84.7 388.2,80.0 389.6,78.5 C391.0,77.0 391.1,78.0 392.6,79.2 C394.1,80.4 396.8,84.4 398.8,85.9 C400.9,87.4 403.1,87.6 404.9,88.2 C406.7,88.8 408.2,89.5 409.8,89.6 C411.4,89.7 413.1,89.6 414.7,88.6 C416.3,87.6 418.0,85.3 419.6,83.7 C421.2,82.1 423.0,80.0 424.6,78.8 C426.2,77.6 427.8,77.1 429.5,76.8 C431.2,76.5 433.1,76.1 434.8,77.0 C436.5,77.9 438.0,79.5 439.6,82.4 C441.2,85.3 442.8,90.4 444.4,94.4 C446.0,98.4 447.6,102.8 449.2,106.4 C450.8,110.0 452.7,114.1 454.0,116.0 C455.3,117.9 456.1,118.4 457.2,117.6 C458.3,116.8 459.3,114.1 460.4,111.2 C461.5,108.3 462.5,104.5 463.6,100.0 C464.7,95.5 464.6,95.4 466.8,84.0 C469.0,72.6 475.3,40.3 477.0,31.6" fill="none" stroke="#dc2430" stroke-width="2.7" stroke-linejoin="round"/>
</g>
</svg>
</body></html>
